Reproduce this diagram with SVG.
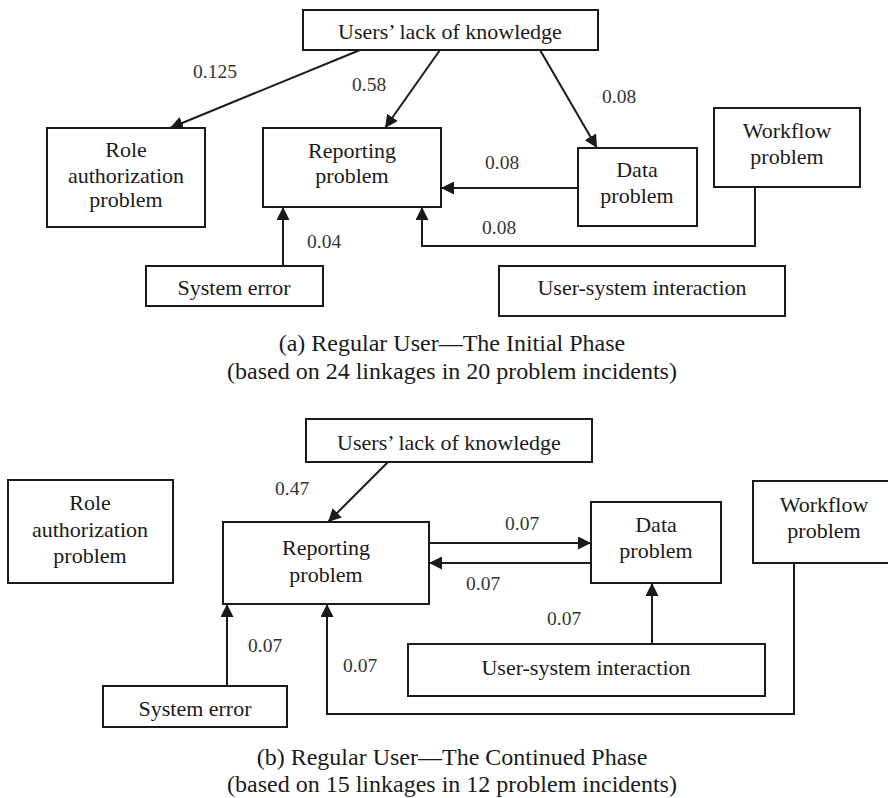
<svg xmlns="http://www.w3.org/2000/svg" width="888" height="798" viewBox="0 0 888 798" font-family="Liberation Serif, Tinos, Times New Roman, DejaVu Serif, serif">
  <style>
    .box { fill: #fff; stroke: #1a1a1a; stroke-width: 2; }
    .node { font-size: 22px; fill: #1a1a1a; text-anchor: middle; }
    .wt { font-size: 19.5px; fill: #333; }
    .cap { font-size: 24px; fill: #1a1a1a; text-anchor: middle; }
    .edge { fill: none; stroke: #1a1a1a; stroke-width: 2; marker-end: url(#head); }
  </style>
  <defs>
    <marker id="head" markerUnits="userSpaceOnUse" markerWidth="14" markerHeight="13" refX="13" refY="6.5" orient="auto">
      <path d="M0,0 L13,6.5 L0,13 z" fill="#1a1a1a"/>
    </marker>
  </defs>
  <rect width="888" height="798" fill="#fff"/>

  <!-- (a) Initial phase -->
  <g id="a-edges">
    <line class="edge" x1="360" y1="50" x2="170" y2="128"/>
    <line class="edge" x1="440" y1="50" x2="385" y2="128"/>
    <line class="edge" x1="540" y1="50" x2="597" y2="148"/>
    <line class="edge" x1="578" y1="188" x2="441" y2="188"/>
    <polyline class="edge" points="755,187 755,246 422,246 422,207"/>
    <line class="edge" x1="283" y1="266" x2="283" y2="207"/>
    <text class="wt" x="193" y="78">0.125</text>
    <text class="wt" x="352" y="91">0.58</text>
    <text class="wt" x="602" y="103">0.08</text>
    <text class="wt" x="485" y="169">0.08</text>
    <text class="wt" x="482" y="234">0.08</text>
    <text class="wt" x="307" y="248">0.04</text>
  </g>
  <g id="a-lack">
    <rect class="box" x="303" y="10" width="295" height="40"/>
    <text class="node" x="450" y="39">Users’ lack of knowledge</text>
  </g>
  <g id="a-role">
    <rect class="box" x="47" y="128" width="158" height="99"/>
    <text class="node" x="126" y="157">Role</text>
    <text class="node" x="126" y="183">authorization</text>
    <text class="node" x="126" y="207">problem</text>
  </g>
  <g id="a-reporting">
    <rect class="box" x="263" y="128" width="178" height="79"/>
    <text class="node" x="352" y="158">Reporting</text>
    <text class="node" x="352" y="183">problem</text>
  </g>
  <g id="a-data">
    <rect class="box" x="578" y="148" width="119" height="78"/>
    <text class="node" x="637" y="177">Data</text>
    <text class="node" x="637" y="203">problem</text>
  </g>
  <g id="a-workflow">
    <rect class="box" x="714" y="108" width="146" height="79"/>
    <text class="node" x="787" y="138">Workflow</text>
    <text class="node" x="787" y="164">problem</text>
  </g>
  <g id="a-syserr">
    <rect class="box" x="146" y="266" width="177" height="40"/>
    <text class="node" x="234" y="295">System error</text>
  </g>
  <g id="a-usersys">
    <rect class="box" x="499" y="266" width="286" height="50"/>
    <text class="node" x="642" y="295">User-system interaction</text>
  </g>
  <text class="cap" x="452" y="351">(a) Regular User—The Initial Phase</text>
  <text class="cap" x="452" y="379">(based on 24 linkages in 20 problem incidents)</text>

  <!-- (b) Continued phase -->
  <g id="b-edges">
    <line class="edge" x1="388" y1="462" x2="328" y2="522"/>
    <line class="edge" x1="429" y1="543" x2="591" y2="543"/>
    <line class="edge" x1="591" y1="563" x2="429" y2="563"/>
    <line class="edge" x1="652" y1="644" x2="652" y2="583"/>
    <line class="edge" x1="227" y1="686" x2="227" y2="604"/>
    <polyline class="edge" points="794,563 794,714 327,714 327,604"/>
    <text class="wt" x="275" y="495">0.47</text>
    <text class="wt" x="505" y="530">0.07</text>
    <text class="wt" x="466" y="590">0.07</text>
    <text class="wt" x="547" y="625">0.07</text>
    <text class="wt" x="248" y="652">0.07</text>
    <text class="wt" x="343" y="672">0.07</text>
  </g>
  <g id="b-lack">
    <rect class="box" x="306" y="419" width="286" height="43"/>
    <text class="node" x="449" y="450">Users’ lack of knowledge</text>
  </g>
  <g id="b-role">
    <rect class="box" x="8" y="480" width="165" height="103"/>
    <text class="node" x="90" y="510">Role</text>
    <text class="node" x="90" y="537">authorization</text>
    <text class="node" x="90" y="563">problem</text>
  </g>
  <g id="b-reporting">
    <rect class="box" x="223" y="522" width="206" height="82"/>
    <text class="node" x="326" y="555">Reporting</text>
    <text class="node" x="326" y="582">problem</text>
  </g>
  <g id="b-data">
    <rect class="box" x="591" y="502" width="130" height="81"/>
    <text class="node" x="656" y="532">Data</text>
    <text class="node" x="656" y="558">problem</text>
  </g>
  <g id="b-workflow">
    <rect class="box" x="753" y="481" width="142" height="82"/>
    <text class="node" x="824" y="512">Workflow</text>
    <text class="node" x="824" y="538">problem</text>
  </g>
  <g id="b-syserr">
    <rect class="box" x="103" y="686" width="184" height="41"/>
    <text class="node" x="195" y="716">System error</text>
  </g>
  <g id="b-usersys">
    <rect class="box" x="408" y="644" width="357" height="52"/>
    <text class="node" x="586" y="675">User-system interaction</text>
  </g>
  <text class="cap" x="452" y="765">(b) Regular User—The Continued Phase</text>
  <text class="cap" x="452" y="792">(based on 15 linkages in 12 problem incidents)</text>
</svg>
